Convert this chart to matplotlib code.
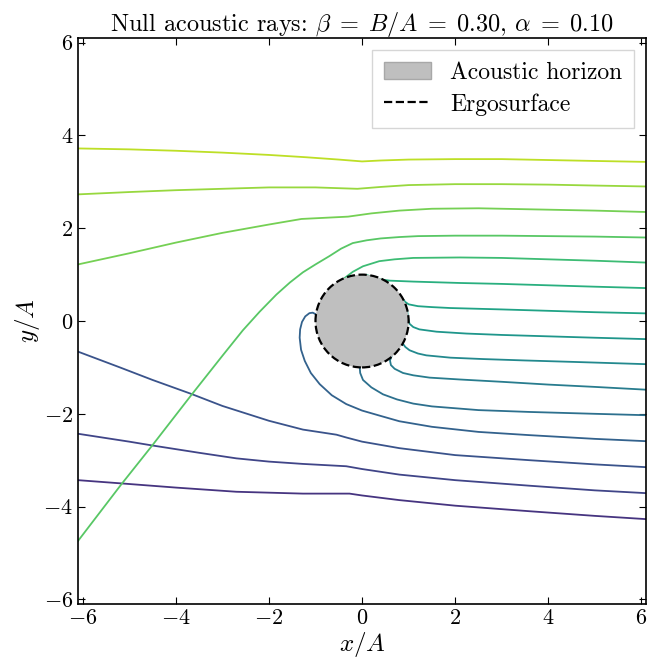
import matplotlib
matplotlib.use("Agg")
import matplotlib.pyplot as plt
import numpy as np
from matplotlib.patches import Circle, Patch
from matplotlib.lines import Line2D

plt.rcParams["font.family"] = "serif"
plt.rcParams["font.serif"] = ["cmr10", "DejaVu Serif"]
plt.rcParams["mathtext.fontset"] = "cm"
plt.rcParams["axes.formatter.use_mathtext"] = True

# rays, ordered from the lowest (dark) to the highest (yellow) at the right edge
ray_x = [
    [-6.1, -5.17, -4, -2.7, -1.27, -0.27, 0.0, 0.8, 2, 3.6, 5, 6.1],
    [-6.1, -5, -4.52, -3.5, -2.7, -2, -1.27, -0.34, 0.0, 0.8, 2, 3.6, 5, 6.1],
    [-6.1, -5.2, -4.5, -3.67, -3, -2, -1.27, -0.55, -0.34, 0.0, 0.8, 2, 3.6, 5, 6.1],
    [-1.0, -1.06, -1.13, -1.22, -1.29, -1.33, -1.34, -1.31, -1.23, -1.1, -0.91, -0.65,
     -0.34, 0.0, 0.38, 0.8, 1.5, 2.5, 3.6, 5, 6.1],
    [-0.05, -0.04, 0.02, 0.2, 0.45, 0.75, 1.1, 1.5, 2.5, 3.6, 5, 6.1],
    [0.63, 0.6, 0.62, 0.7, 0.88, 1.1, 1.45, 2.1, 3, 4, 5, 6.1],
    [0.87, 0.93, 1.02, 1.2, 1.38, 1.9, 2.6, 3.5, 4.5, 6.1],
    [0.97, 0.99, 1.02, 1.1, 1.23, 1.6, 2.24, 3, 4, 5, 6.1],
    [0.87, 0.93, 1.0, 1.2, 1.5, 1.9, 3, 4, 5, 6.1],
    [0.1, 0.38, 0.6, 1.1, 2.1, 3, 4, 5, 6.1],
    [-0.37, -0.2, 0.02, 0.37, 0.7, 1.1, 2.1, 3, 4, 5, 6.1],
    [6.1, 5, 4, 3, 2, 1.2, 0.8, 0.4, 0.1, -0.2, -0.45, -0.7, -1.0, -1.27, -1.55, -1.84,
     -2.2, -2.56, -3.0, -3.67, -4.52, -5.17, -6.1],
    [-6.1, -5, -4, -3, -2, -1.3, -0.3, 0.2, 0.8, 1.5, 2.5, 4, 5, 6.1],
    [-6.1, -5, -4, -3, -2, -1, -0.1, 0.4, 1, 2, 3, 4, 5, 6.1],
    [-6.1, -5, -4, -3, -2, -1.2, -0.5, 0.0, 0.4, 1, 2, 3, 4, 5, 6.1],
]
ray_y = [
    [-3.43, -3.5, -3.59, -3.68, -3.72, -3.72, -3.76, -3.86, -3.98, -4.1, -4.2, -4.27],
    [-2.43, -2.6, -2.68, -2.84, -2.96, -3.03, -3.08, -3.13, -3.19, -3.31, -3.43, -3.55, -3.65, -3.71],
    [-0.66, -1.0, -1.27, -1.57, -1.83, -2.15, -2.34, -2.45, -2.51, -2.6, -2.74, -2.89, -3.0, -3.09, -3.15],
    [0.15, 0.18, 0.17, 0.10, -0.02, -0.18, -0.36, -0.62, -0.86, -1.12, -1.36, -1.60,
     -1.79, -1.93, -2.04, -2.16, -2.28, -2.39, -2.46, -2.54, -2.59],
    [-1.0, -1.12, -1.27, -1.43, -1.58, -1.69, -1.78, -1.84, -1.92, -1.96, -2.0, -2.03],
    [-0.77, -0.85, -0.95, -1.03, -1.12, -1.17, -1.22, -1.26, -1.31, -1.37, -1.42, -1.48],
    [-0.48, -0.56, -0.63, -0.70, -0.74, -0.79, -0.82, -0.85, -0.88, -0.93],
    [0.22, 0.05, -0.06, -0.13, -0.18, -0.23, -0.27, -0.30, -0.33, -0.36, -0.39],
    [0.48, 0.41, 0.36, 0.32, 0.30, 0.28, 0.25, 0.22, 0.19, 0.165],
    [0.99, 0.90, 0.87, 0.85, 0.82, 0.80, 0.77, 0.74, 0.71],
    [0.93, 1.06, 1.18, 1.29, 1.33, 1.36, 1.37, 1.36, 1.33, 1.30, 1.26],
    [1.80, 1.82, 1.83, 1.84, 1.84, 1.83, 1.81, 1.78, 1.74, 1.68, 1.56, 1.40, 1.22, 1.05,
     0.83, 0.57, 0.2, -0.2, -0.75, -1.6, -2.7, -3.52, -4.74],
    [1.22, 1.46, 1.69, 1.90, 2.08, 2.20, 2.25, 2.32, 2.38, 2.42, 2.43, 2.40, 2.38, 2.35],
    [2.73, 2.78, 2.82, 2.85, 2.88, 2.88, 2.85, 2.89, 2.93, 2.95, 2.95, 2.94, 2.92, 2.90],
    [3.72, 3.70, 3.67, 3.63, 3.58, 3.53, 3.48, 3.44, 3.46, 3.48, 3.49, 3.49, 3.47, 3.45, 3.43],
]

beta = 0.30
alpha = 0.10
r_horizon = 1.0
r_ergo = 1.0

fig = plt.figure(figsize=(6.59, 6.6), dpi=100)
ax = fig.add_axes([0.1184, 0.0848, 0.862, 0.8576])

colors = plt.cm.viridis(np.linspace(0.15, 0.9, len(ray_x)))
for i in range(len(ray_x)):
    ax.plot(ray_x[i], ray_y[i], color=colors[i], lw=1.3)

ax.add_patch(Circle((0, 0), r_horizon, facecolor="#bfbfbf", edgecolor="none", zorder=3))
ax.add_patch(Circle((0, 0), r_ergo, facecolor="none", edgecolor="black", ls="--", lw=1.6, zorder=4))

ax.set_xlim(-6.1, 6.1)
ax.set_ylim(-6.1, 6.1)
ax.set_xticks([-6, -4, -2, 0, 2, 4, 6])
ax.set_yticks([-6, -4, -2, 0, 2, 4, 6])
ax.tick_params(direction="in", top=True, right=True, labelsize=16, length=5)
for s in ax.spines.values():
    s.set_linewidth(1.2)

ax.set_xlabel("$x/A$", fontsize=18, labelpad=1)
ax.set_ylabel("$y/A$", fontsize=18, labelpad=1)
ax.set_title(r"Null acoustic rays: $\beta\;=\;B/A\;=\;%.2f$, $\alpha\;=\;%.2f$" % (beta, alpha),
             fontsize=17.5, pad=5)

handles = [
    Patch(facecolor="#bfbfbf", edgecolor="#a8a8a8", label="Acoustic horizon"),
    Line2D([], [], color="black", ls="--", lw=1.6, label="Ergosurface"),
]
ax.legend(handles=handles, loc="upper right", fontsize=17, fancybox=False,
          edgecolor="#cccccc", handlelength=2.0, borderpad=0.5, labelspacing=0.4)

fig.savefig("out.png", dpi=100)
